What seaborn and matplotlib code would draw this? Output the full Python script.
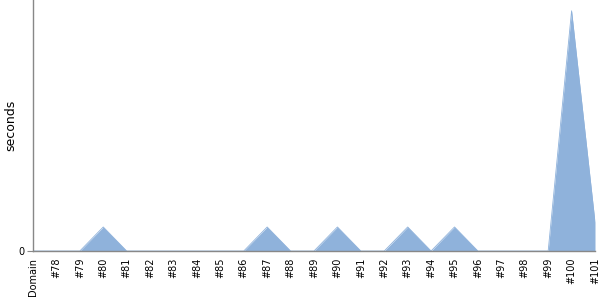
import matplotlib
matplotlib.use("Agg")
import matplotlib.pyplot as plt
import seaborn as sns
import numpy as np
import pandas as pd

categories = ["Domain"] + [f"#{i}" for i in range(78, 102)]
seconds = [0, 0, 0, 1, 0, 0, 0, 0, 0, 0, 1, 0, 0, 1, 0, 0, 1, 0, 1, 0, 0, 0, 0, 10, 1.2]

sns.set_style("white")
plt.rcParams['font.family'] = ['DejaVu Sans']

df = pd.DataFrame({"cat": categories, "seconds": seconds, "pos": np.arange(len(categories))})

fig = plt.figure(figsize=(6, 3), dpi=100)
ax = fig.add_axes([33/600, 49/300, (595-33)/600, 251/300])

color = "#8fb2db"
sns.lineplot(data=df, x="pos", y="seconds", ax=ax, color=color, linewidth=0.6)
ax.fill_between(df["pos"], 0, df["seconds"], color=color, linewidth=0)

ax.set_xlim(0, len(categories) - 1)
ax.set_ylim(0, 10.45)
ax.set_xticks(df["pos"])
ax.set_xticklabels(categories, rotation=90, fontsize=7, va="top", ha="center", color="black")
ax.set_yticks([0])
ax.set_yticklabels(["0"], fontsize=7, color="black")
ax.set_xlabel("")
ax.set_ylabel("seconds", fontsize=9, color="black")
ax.yaxis.set_label_coords(-16/562, 0.5)

for s in ["top", "right"]:
    ax.spines[s].set_visible(False)
for s in ["left", "bottom"]:
    ax.spines[s].set_color("#888888")
    ax.spines[s].set_linewidth(1)
ax.tick_params(axis="x", length=0, pad=5)
ax.tick_params(axis="y", length=4, color="#888888", pad=2, left=True)

fig.savefig("out.png", dpi=100)
